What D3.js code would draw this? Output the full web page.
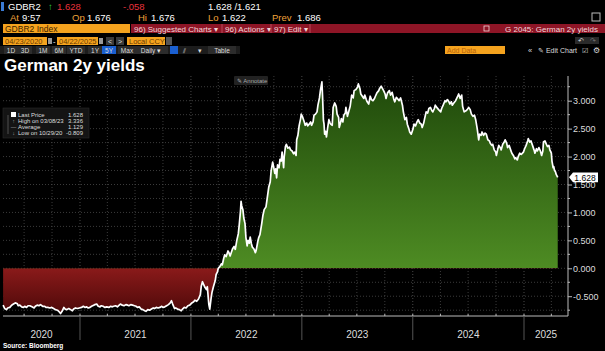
<!DOCTYPE html>
<html lang="en">
<head>
<meta charset="utf-8">
<title>German 2y yields</title>
<script src="https://cdn.jsdelivr.net/npm/d3@7"></script>
<style>
    body { margin: 0; background: #000; }
    svg { display: block; font-family: "Liberation Sans", Arial, sans-serif; }
</style>
</head>
<body>
<script>
var w = 605, h = 351;
var plotLeft = 3, plotRight = 568, plotTop = 76, plotBottom = 316;

// daily-ish samples (yield, %)
var dates = [
 "2020-04-23","2020-04-28","2020-05-04","2020-05-08","2020-05-15","2020-05-21","2020-05-27","2020-06-02","2020-06-08","2020-06-12",
 "2020-06-17","2020-06-23","2020-06-29","2020-07-03","2020-07-09","2020-07-14","2020-07-20","2020-07-27","2020-08-03","2020-08-07",
 "2020-08-13","2020-08-19","2020-08-24","2020-08-31","2020-09-07","2020-09-11","2020-09-17","2020-09-24","2020-09-30","2020-10-06",
 "2020-10-12","2020-10-19","2020-10-23","2020-10-29","2020-11-03","2020-11-09","2020-11-13","2020-11-19","2020-11-25","2020-12-01",
 "2020-12-07","2020-12-11","2020-12-17","2020-12-23","2020-12-30",
 "2021-01-06","2021-01-12","2021-01-18","2021-01-22","2021-01-28","2021-02-03","2021-02-08","2021-02-15","2021-02-19","2021-02-25",
 "2021-03-02","2021-03-08","2021-03-12","2021-03-18","2021-03-24","2021-03-30","2021-04-06","2021-04-12","2021-04-16","2021-04-22",
 "2021-04-28","2021-05-04","2021-05-10","2021-05-14","2021-05-20","2021-05-26","2021-06-01","2021-06-07","2021-06-11","2021-06-17",
 "2021-06-23","2021-06-29","2021-07-05","2021-07-09","2021-07-15","2021-07-21","2021-07-27","2021-08-02","2021-08-06","2021-08-12",
 "2021-08-18","2021-08-24","2021-08-30","2021-09-03","2021-09-09","2021-09-15","2021-09-21","2021-09-27","2021-10-01","2021-10-07",
 "2021-10-13","2021-10-19","2021-10-25","2021-10-29","2021-11-02","2021-11-08","2021-11-12","2021-11-18","2021-11-24","2021-11-30",
 "2021-12-06","2021-12-10","2021-12-16","2021-12-22","2021-12-28",
 "2022-01-04","2022-01-10","2022-01-14","2022-01-20","2022-01-26","2022-02-01","2022-02-04","2022-02-08","2022-02-11","2022-02-16",
 "2022-02-21","2022-02-24","2022-03-01","2022-03-04","2022-03-08","2022-03-11","2022-03-16","2022-03-22","2022-03-25","2022-03-29",
 "2022-04-01","2022-04-06","2022-04-11","2022-04-14","2022-04-19","2022-04-22","2022-04-27","2022-05-03","2022-05-06","2022-05-10",
 "2022-05-13","2022-05-18","2022-05-23","2022-05-27","2022-06-01","2022-06-06","2022-06-09","2022-06-13","2022-06-15","2022-06-17",
 "2022-06-21","2022-06-24","2022-06-28","2022-07-01","2022-07-05","2022-07-08","2022-07-12","2022-07-15","2022-07-19","2022-07-22",
 "2022-07-27","2022-08-01","2022-08-04","2022-08-09","2022-08-12","2022-08-16","2022-08-22","2022-08-26","2022-08-30","2022-09-05",
 "2022-09-09","2022-09-14","2022-09-19","2022-09-22","2022-09-27","2022-09-30","2022-10-04","2022-10-07","2022-10-10","2022-10-13",
 "2022-10-18","2022-10-21","2022-10-25","2022-10-28","2022-11-02","2022-11-04","2022-11-08","2022-11-11","2022-11-16","2022-11-21",
 "2022-11-25","2022-11-30","2022-12-05","2022-12-09","2022-12-13","2022-12-15","2022-12-19","2022-12-23","2022-12-28","2022-12-30",
 "2023-01-04","2023-01-09","2023-01-12","2023-01-17","2023-01-20","2023-01-25","2023-01-30","2023-02-02","2023-02-07","2023-02-10",
 "2023-02-15","2023-02-20","2023-02-23","2023-02-28","2023-03-03","2023-03-08","2023-03-10","2023-03-13","2023-03-15","2023-03-17",
 "2023-03-20","2023-03-23","2023-03-27","2023-03-31","2023-04-04","2023-04-06","2023-04-11","2023-04-14","2023-04-19","2023-04-24",
 "2023-04-27","2023-05-02","2023-05-04","2023-05-08","2023-05-11","2023-05-16","2023-05-19","2023-05-24","2023-05-26","2023-05-31",
 "2023-06-05","2023-06-09","2023-06-14","2023-06-19","2023-06-22","2023-06-28","2023-07-03","2023-07-06","2023-07-11","2023-07-14",
 "2023-07-19","2023-07-24","2023-07-27","2023-08-01","2023-08-04","2023-08-09","2023-08-14","2023-08-18","2023-08-23","2023-08-28",
 "2023-08-31","2023-09-05","2023-09-11","2023-09-14","2023-09-19","2023-09-22","2023-09-27","2023-10-02","2023-10-05","2023-10-10",
 "2023-10-16","2023-10-20","2023-10-25","2023-10-31","2023-11-03","2023-11-08","2023-11-14","2023-11-17","2023-11-22","2023-11-28",
 "2023-12-01","2023-12-06","2023-12-11","2023-12-14","2023-12-19","2023-12-22","2023-12-27",
 "2024-01-02","2024-01-05","2024-01-10","2024-01-15","2024-01-19","2024-01-24","2024-01-29","2024-02-01","2024-02-06","2024-02-09",
 "2024-02-14","2024-02-19","2024-02-23","2024-02-28","2024-03-04","2024-03-07","2024-03-12","2024-03-15","2024-03-20","2024-03-26",
 "2024-04-02","2024-04-05","2024-04-10","2024-04-16","2024-04-19","2024-04-24","2024-04-29","2024-05-02","2024-05-07","2024-05-10",
 "2024-05-15","2024-05-21","2024-05-28","2024-05-31","2024-06-05","2024-06-10","2024-06-13","2024-06-18","2024-06-24","2024-06-28",
 "2024-07-03","2024-07-08","2024-07-12","2024-07-17","2024-07-22","2024-07-26","2024-07-31","2024-08-05","2024-08-08","2024-08-13",
 "2024-08-16","2024-08-21","2024-08-26","2024-08-30","2024-09-04","2024-09-09","2024-09-12","2024-09-17","2024-09-20","2024-09-25",
 "2024-09-30","2024-10-02","2024-10-07","2024-10-10","2024-10-15","2024-10-18","2024-10-23","2024-10-28","2024-10-31","2024-11-05",
 "2024-11-08","2024-11-13","2024-11-18","2024-11-22","2024-11-27","2024-12-02","2024-12-05","2024-12-10","2024-12-13","2024-12-18",
 "2024-12-23","2024-12-30",
 "2025-01-03","2025-01-08","2025-01-13","2025-01-15","2025-01-20","2025-01-24","2025-01-29","2025-02-03","2025-02-06","2025-02-11",
 "2025-02-14","2025-02-19","2025-02-24","2025-02-28","2025-03-04","2025-03-06","2025-03-11","2025-03-14","2025-03-19","2025-03-24",
 "2025-03-27","2025-04-01","2025-04-03","2025-04-07","2025-04-09","2025-04-11","2025-04-15","2025-04-17","2025-04-22"
];
var yields = [
 -0.66,-0.72,-0.74,-0.71,-0.70,-0.66,-0.64,-0.62,-0.63,-0.67,
 -0.66,-0.69,-0.70,-0.68,-0.70,-0.67,-0.67,-0.69,-0.71,-0.68,
 -0.66,-0.67,-0.65,-0.68,-0.68,-0.70,-0.70,-0.71,-0.70,-0.72,
 -0.74,-0.75,-0.77,-0.809,-0.77,-0.70,-0.73,-0.74,-0.72,-0.74,
 -0.76,-0.73,-0.71,-0.72,-0.71,
 -0.70,-0.68,-0.70,-0.69,-0.71,-0.70,-0.68,-0.66,-0.65,-0.64,
 -0.68,-0.69,-0.67,-0.68,-0.70,-0.69,-0.70,-0.68,-0.69,-0.68,
 -0.67,-0.69,-0.66,-0.64,-0.66,-0.67,-0.65,-0.66,-0.67,-0.65,
 -0.66,-0.67,-0.68,-0.70,-0.69,-0.73,-0.74,-0.76,-0.77,-0.74,
 -0.75,-0.73,-0.71,-0.72,-0.70,-0.71,-0.70,-0.68,-0.70,-0.69,
 -0.67,-0.65,-0.62,-0.58,-0.64,-0.72,-0.71,-0.73,-0.74,-0.76,
 -0.72,-0.70,-0.71,-0.67,-0.66,
 -0.62,-0.60,-0.57,-0.59,-0.55,-0.47,-0.32,-0.24,-0.28,-0.34,
 -0.38,-0.33,-0.65,-0.73,-0.55,-0.44,-0.33,-0.22,-0.11,-0.07,
 0.00,0.03,0.08,0.06,0.18,0.24,0.21,0.31,0.28,0.22,
 0.27,0.35,0.39,0.34,0.50,0.62,0.78,1.02,1.20,1.12,
 1.05,0.90,0.80,0.55,0.40,0.50,0.45,0.56,0.44,0.38,
 0.35,0.28,0.33,0.48,0.55,0.60,0.80,0.95,1.05,1.10,
 1.25,1.45,1.55,1.75,1.90,1.82,1.70,1.78,1.62,1.85,
 1.80,1.95,1.92,2.08,1.80,2.00,2.18,2.22,2.15,2.17,
 2.12,2.10,2.05,2.08,2.02,2.30,2.38,2.55,2.68,2.76,
 2.70,2.62,2.56,2.60,2.55,2.58,2.62,2.56,2.62,2.74,
 2.76,2.80,2.92,3.05,3.18,3.336,3.10,2.65,2.58,2.40,
 2.45,2.35,2.52,2.66,2.60,2.58,2.56,2.88,2.96,2.90,
 2.76,2.70,2.52,2.60,2.68,2.62,2.74,2.78,2.88,2.72,
 2.82,2.90,3.10,3.05,3.18,3.20,3.24,3.30,3.22,3.12,
 3.08,3.04,3.10,3.02,2.98,2.94,3.08,3.02,3.00,3.04,
 3.08,3.14,3.18,3.22,3.26,3.23,3.18,3.12,3.04,3.14,
 3.18,3.10,3.15,3.02,2.98,3.06,3.02,3.00,3.05,2.92,
 2.80,2.66,2.70,2.58,2.50,2.44,2.40,
 2.50,2.58,2.55,2.62,2.66,2.60,2.58,2.52,2.60,2.68,
 2.80,2.78,2.86,2.88,2.82,2.80,2.86,2.92,2.88,2.84,
 2.80,2.86,2.92,3.00,2.98,3.02,2.98,2.94,2.98,2.92,
 2.96,3.00,3.08,3.12,3.04,3.10,2.90,2.80,2.82,2.84,
 2.88,2.84,2.76,2.72,2.74,2.66,2.50,2.30,2.40,2.38,
 2.44,2.38,2.42,2.40,2.30,2.28,2.24,2.20,2.22,2.12,
 2.08,2.02,2.14,2.20,2.16,2.12,2.22,2.26,2.30,2.24,
 2.16,2.20,2.12,2.06,2.02,1.96,1.98,1.94,2.00,2.06,
 2.04,2.08,
 2.14,2.20,2.28,2.32,2.26,2.28,2.20,2.12,2.06,2.14,
 2.10,2.16,2.10,2.02,2.10,2.26,2.28,2.24,2.18,2.20,
 2.12,2.06,1.92,1.80,1.82,1.76,1.72,1.68,1.628
];

var yTicks = [-0.5, 0, 0.5, 1, 1.5, 2, 2.5, 3];
var yearLabels = ["2020", "2021", "2022", "2023", "2024", "2025"];
var lastPrice = 1.628;
var statNames = ["Last Price", "High on 03/08/23", "Average", "Low on 10/29/20"];
var statValues = ["1.628", "3.336", "1.129", "-0.809"];

var parseDate = d3.timeParse("%Y-%m-%d");
var data = dates.map(function(d, i) { return {date: parseDate(d), v: yields[i]}; });

var x = d3.scaleTime()
    .domain([new Date(2021, 0, 1), new Date(2025, 0, 1)])
    .range([80, 524]);
var y = d3.scaleLinear().domain([0, 3]).range([268.3, 100.7]);
var xStart = x.invert(plotLeft), xEnd = x.invert(plotRight);

var svg = d3.select("body").append("svg").attr("width", w).attr("height", h);
svg.append("rect").attr("width", w).attr("height", h).attr("fill", "#000");

// ---------- header (Bloomberg toolbar) ----------
var amber = "#f0a33a", orange = "#f5a31e", barRed = "#8e1526";
function txt(g, s, xx, yy, size, fill, anchor) {
    return g.append("text").text(s).attr("x", xx).attr("y", yy)
        .attr("font-size", size).attr("fill", fill).attr("text-anchor", anchor || "start");
}
var hd = svg.append("g");
hd.append("rect").attr("x", 1).attr("y", 2).attr("width", 3).attr("height", 9).attr("fill", "#3a7bd5");
txt(hd, "GDBR2", 8, 10, 9.5, "#fff");
txt(hd, "\u2191", 48, 10, 9.5, "#2ecc40");
txt(hd, "1.628", 57, 10, 9.5, "#e8323c");
txt(hd, "-.058", 123, 10, 9.5, "#e8323c");
txt(hd, "1.628 /1.621", 208, 10, 9.5, "#fff");

[["At", 10, "9:57", 22], ["Op", 72, "1.676", 87], ["Hi", 138, "1.676", 151],
 ["Lo", 208, "1.622", 222], ["Prev", 272, "1.686", 297]].forEach(function(p) {
    txt(hd, p[0], p[1], 20.5, 9.5, amber);
    txt(hd, p[2], p[3], 20.5, 9.5, "#fff");
});
hd.append("rect").attr("x", 592).attr("y", 13).attr("width", 8).attr("height", 8)
    .attr("fill", "none").attr("stroke", "#bbb").attr("stroke-width", 1);

hd.append("rect").attr("x", 3).attr("y", 24).attr("width", 127).attr("height", 9).attr("fill", orange);
txt(hd, "GDBR2 Index", 5, 31.5, 8.5, "#3a2200");
hd.append("rect").attr("x", 131).attr("y", 24).attr("width", 474).attr("height", 9).attr("fill", barRed);
txt(hd, "96) Suggested Charts \u25BE", 134, 31.5, 8, "#f3d6da");
txt(hd, "96) Actions \u25BE", 225, 31.5, 8, "#f3d6da");
txt(hd, "97) Edit \u25BE", 274, 31.5, 8, "#f3d6da");
[222, 271, 310].forEach(function(sx) {
    hd.append("line").attr("x1", sx).attr("x2", sx).attr("y1", 24).attr("y2", 33).attr("stroke", "#b84a5a");
});
hd.append("rect").attr("x", 484).attr("y", 26).attr("width", 5).attr("height", 5)
    .attr("fill", "none").attr("stroke", "#f3d6da").attr("stroke-width", 0.8);
txt(hd, "G 2045: German 2y yields", 598, 31.5, 8, "#f3d6da", "end");

// date range row
function box(g, bx, by, bw, bh, fill) {
    return g.append("rect").attr("x", bx).attr("y", by).attr("width", bw).attr("height", bh).attr("fill", fill);
}
box(hd, 3, 37, 44, 8, orange); txt(hd, "04/23/2020", 5, 43.5, 7.5, "#6a3a00");
box(hd, 48, 38, 4, 6, "#999");
txt(hd, "-", 53, 43.5, 7.5, "#fff");
box(hd, 57, 37, 41, 8, orange); txt(hd, "04/22/2025", 59, 43.5, 7.5, "#6a3a00");
box(hd, 99, 38, 4, 6, "#999");
box(hd, 106, 37, 8, 8, "#3a3a3a"); txt(hd, "<", 110, 43.5, 7, "#ddd", "middle");
box(hd, 116, 37, 8, 8, "#3a3a3a"); txt(hd, ">", 120, 43.5, 7, "#ddd", "middle");
box(hd, 127, 37, 38, 8, orange); txt(hd, "Local CCY", 129, 43.5, 7.5, "#6a3a00");
box(hd, 166, 37, 6, 8, "#555");
box(hd, 575, 37, 24, 7, "#2a2a2a");
txt(hd, "\u21B6", 581, 43, 7, "#ddd", "middle");
txt(hd, "\u21B7", 593, 43, 7, "#777", "middle");

// period buttons row
box(hd, 0, 46, 240, 8, "#1c1c1c");
[["1D", 11], ["3D", 25], ["1M", 43], ["6M", 59], ["YTD", 76], ["1Y", 95], ["5Y", 109], ["Max", 127], ["Daily \u25BE", 151]]
    .forEach(function(b) {
        var bw = b[0].length * 4 + 6;
        box(hd, b[1] - bw / 2, 46, bw, 8, b[0] === "5Y" ? "#1a5fd0" : "#2c2c2c");
        txt(hd, b[0], b[1], 52.5, 6.5, "#ddd", "middle");
    });
box(hd, 170, 46, 8, 8, "#1a5fd0");
txt(hd, "\u2AFD", 184, 52.5, 6.5, "#ddd", "middle");
txt(hd, "\u25BE", 200, 52.5, 6.5, "#ddd", "middle");
box(hd, 208, 46, 28, 8, "#2c2c2c");
txt(hd, "Table", 222, 52.5, 6.5, "#ddd", "middle");
box(hd, 445, 46, 60, 8, orange); txt(hd, "Add Data", 447, 52.5, 7, "#b8620c");
txt(hd, "\u00AB", 530, 52.5, 7.5, "#ddd", "middle");
txt(hd, "\u270E Edit Chart", 538, 52.5, 7, "#ddd");
txt(hd, "\u2611", 585, 52.5, 7, "#ddd", "middle");
txt(hd, "\u2699", 596, 52.5, 8, "#ddd", "middle");

// title
svg.append("text").text("German 2y yields")
    .attr("x", 4).attr("y", 71)
    .attr("font-size", "17px").attr("font-weight", "bold").attr("fill", "#fff");

// ---------- plot ----------
var defs = svg.append("defs");
var gGreen = defs.append("linearGradient").attr("id", "gGreen").attr("gradientUnits", "userSpaceOnUse")
    .attr("x1", 0).attr("x2", 0).attr("y1", plotTop).attr("y2", y(0));
gGreen.append("stop").attr("offset", 0).attr("stop-color", "#1e470a");
gGreen.append("stop").attr("offset", 1).attr("stop-color", "#4e8c23");
var gRed = defs.append("linearGradient").attr("id", "gRed").attr("gradientUnits", "userSpaceOnUse")
    .attr("x1", 0).attr("x2", 0).attr("y1", y(0)).attr("y2", plotBottom);
gRed.append("stop").attr("offset", 0).attr("stop-color", "#8a1a1a");
gRed.append("stop").attr("offset", 1).attr("stop-color", "#4a0808");

defs.append("clipPath").attr("id", "clipPos").append("rect")
    .attr("x", 0).attr("y", 0).attr("width", w).attr("height", y(0));
defs.append("clipPath").attr("id", "clipNeg").append("rect")
    .attr("x", 0).attr("y", y(0)).attr("width", w).attr("height", h - y(0));

// grid
var grid = svg.append("g");
var gridVals = d3.range(-0.75, 3.26, 0.25);
grid.selectAll("line.h").data(gridVals).enter().append("line")
    .attr("x1", plotLeft).attr("x2", plotRight)
    .attr("y1", function(d) { return y(d); }).attr("y2", function(d) { return y(d); })
    .attr("stroke", "#4a4a4a").attr("stroke-width", 0.8).attr("stroke-dasharray", "1,2");
var quarters = d3.timeMonth.every(3).range(xStart, xEnd);
grid.selectAll("line.v").data(quarters).enter().append("line")
    .attr("x1", function(d) { return x(d); }).attr("x2", function(d) { return x(d); })
    .attr("y1", plotTop).attr("y2", plotBottom)
    .attr("stroke", function(d) { return d.getMonth() === 0 ? "#5a5a5a" : "#4a4a4a"; })
    .attr("stroke-width", 0.8).attr("stroke-dasharray", "1,2");

// area fills
var area = d3.area()
    .x(function(d) { return x(d.date); })
    .y0(y(0))
    .y1(function(d) { return y(d.v); });
svg.append("path").datum(data).attr("d", area).attr("fill", "url(#gGreen)").attr("clip-path", "url(#clipPos)");
svg.append("path").datum(data).attr("d", area).attr("fill", "url(#gRed)").attr("clip-path", "url(#clipNeg)");

var line = d3.line()
    .x(function(d) { return x(d.date); })
    .y(function(d) { return y(d.v); });
svg.append("path").datum(data).attr("d", line)
    .attr("fill", "none").attr("stroke", "#fff").attr("stroke-width", 1.7).attr("stroke-linejoin", "round");

// annotate button
svg.append("rect").attr("x", 234).attr("y", 76).attr("width", 34).attr("height", 9).attr("rx", 1).attr("fill", "#222");
txt(svg, "\u270E Annotate", 237, 83, 6, "#aaa");

// legend box
var lg = svg.append("g");
lg.append("rect").attr("x", 3).attr("y", 108).attr("width", 86).attr("height", 30)
    .attr("fill", "#141414").attr("stroke", "#2a2a2a").attr("stroke-width", 0.6);
lg.append("line").attr("x1", 8).attr("x2", 8).attr("y1", 115).attr("y2", 134).attr("stroke", "#777").attr("stroke-width", 0.6);
lg.append("rect").attr("x", 11).attr("y", 112).attr("width", 5).attr("height", 5).attr("fill", "#fff");
var marks = ["", "\u2191", "\u2014", "\u2193"];
statNames.forEach(function(s, i) {
    var by = 117 + i * 6;
    if (marks[i]) txt(lg, marks[i], 13.5, by, 5.5, "#aaa", "middle");
    txt(lg, s, 18, by, 6, "#ddd");
    txt(lg, statValues[i], 83, by, 6, "#ddd", "end");
});

// y axis (right)
var yAxis = d3.axisRight(y).tickValues(yTicks).tickSize(4)
    .tickFormat(function(d) { return d.toFixed(3); });
var ya = svg.append("g").attr("transform", "translate(" + plotRight + ",0)").call(yAxis);
ya.select(".domain").attr("d", "M0," + plotTop + "V" + plotBottom).attr("stroke", "#bbb");
ya.selectAll(".tick line").attr("stroke", "#bbb");
ya.selectAll(".tick text").attr("fill", "#ddd").attr("font-size", "9px").attr("x", 5)
    .attr("font-family", "Liberation Sans, Arial, sans-serif");
var minorY = d3.range(-0.75, 3.26, 0.5);
ya.selectAll("line.minor").data(minorY).enter().append("line")
    .attr("x1", 0).attr("x2", 2).attr("y1", function(d) { return y(d); }).attr("y2", function(d) { return y(d); })
    .attr("stroke", "#bbb");

// last price tag (sits over the top of the 1.500 label, as in the terminal)
var ly = y(lastPrice);
svg.append("path")
    .attr("d", "M" + (plotRight + 1) + "," + ly + "L" + (plotRight + 5) + "," + (ly - 4.8) +
        "H598V" + (ly + 4.8) + "H" + (plotRight + 5) + "Z")
    .attr("fill", "#fff");
txt(svg, lastPrice.toFixed(3), 585, ly + 3.2, 8.5, "#000", "middle");

// x axis
var xa = svg.append("g");
xa.append("line").attr("x1", plotLeft).attr("x2", plotRight).attr("y1", plotBottom).attr("y2", plotBottom)
    .attr("stroke", "#bbb");
xa.selectAll("line.q").data(quarters).enter().append("line")
    .attr("x1", function(d) { return x(d); }).attr("x2", function(d) { return x(d); })
    .attr("y1", plotBottom - 2).attr("y2", plotBottom).attr("stroke", "#bbb");
var years = d3.timeYear.range(d3.timeYear.ceil(xStart), xEnd);
xa.selectAll("line.yr").data(years).enter().append("line")
    .attr("x1", function(d) { return x(d); }).attr("x2", function(d) { return x(d); })
    .attr("y1", plotBottom).attr("y2", 340).attr("stroke", "#555");
xa.selectAll("text.yr").data(yearLabels).enter().append("text")
    .text(function(d) { return d; })
    .attr("x", function(d) {
        var a = Math.max(plotLeft, x(new Date(+d, 0, 1)));
        var b = Math.min(plotRight, x(new Date(+d + 1, 0, 1)));
        return (a + b) / 2;
    })
    .attr("y", 338).attr("text-anchor", "middle").attr("font-size", "10px").attr("fill", "#ddd");

// source
svg.append("text").text("Source: Bloomberg").attr("x", 3).attr("y", 348)
    .attr("font-size", "6.5px").attr("font-weight", "bold").attr("fill", "#fff");
</script>
</body>
</html>
